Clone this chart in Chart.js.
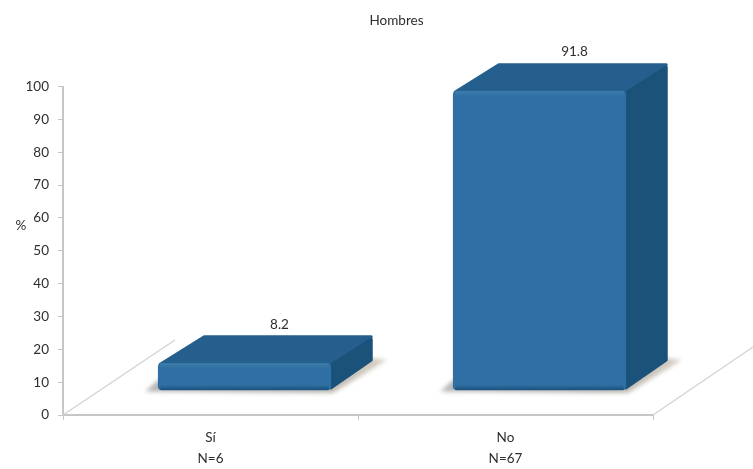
<!DOCTYPE html>
<html>
<head>
<meta charset="utf-8">
<title>Hombres</title>
<script src="https://cdn.jsdelivr.net/npm/chart.js@4"></script>
<style>
  body { margin: 0; background: #fff; }
  canvas { display: block; filter: blur(0.35px); }
</style>
</head>
<body>
<canvas id="chart" width="753" height="469"></canvas>
<script>
const chartTitle = "Hombres";
const axisLabel = "%";
const categories = ["Sí", "No"];
const counts = [6, 67];
const percents = [8.2, 91.8];
const yTicks = [0, 10, 20, 30, 40, 50, 60, 70, 80, 90, 100];

const fontName = "Lato, sans-serif";
const textColor = "#2e2e2e";
const lineColor = "#c6c6c6";

// the fake 3D look: front face sits up and right of the axis floor
const frontX = 34;
const frontY = -25;

const fake3d = {
  id: "fake3d",
  beforeDatasetsDraw(chart) {
    const { ctx, chartArea } = chart;
    // floor lines
    ctx.save();
    ctx.strokeStyle = "#d2d2d2";
    ctx.lineWidth = 1.3;
    ctx.beginPath();
    ctx.moveTo(chartArea.left, chartArea.bottom);
    ctx.lineTo(chartArea.left + 112, chartArea.bottom - 75);
    ctx.moveTo(chartArea.right, chartArea.bottom);
    ctx.lineTo(chartArea.right + 100, chartArea.bottom - 68);
    ctx.stroke();
    ctx.restore();
  },
  beforeDatasetDraw(chart, args) {
    const { ctx } = chart;
    ctx.save();
    ctx.translate(frontX, frontY);

    args.meta.data.forEach((bar) => {
      const x0 = bar.x - bar.width / 2;
      const x1 = bar.x + bar.width / 2;
      const yt = bar.y;
      const yb = bar.base;

      // shadow on the floor
      ctx.save();
      ctx.filter = "blur(2px)";
      const shade = ctx.createLinearGradient(x0 - 13, 0, x1 + 56, 0);
      shade.addColorStop(0, "#b4b4b4");
      shade.addColorStop(0.7, "#b8b3ad");
      shade.addColorStop(1, "#d6d0c6");
      ctx.fillStyle = shade;
      ctx.beginPath();
      ctx.moveTo(x0 - 13, yb + 1.5);
      ctx.lineTo(x1 + 2, yb + 3);
      ctx.lineTo(x1 + 56, yb - 30);
      ctx.lineTo(x1 + 40, yb - 32);
      ctx.lineTo(x0, yb - 10);
      ctx.closePath();
      ctx.fill();
      ctx.restore();

      ctx.lineJoin = "round";
      ctx.lineWidth = 3;

      // top face
      ctx.fillStyle = ctx.strokeStyle = "#245f8d";
      ctx.beginPath();
      ctx.moveTo(x0 + 2, yt + 1);
      ctx.lineTo(x0 + 46, yt - 26.5);
      ctx.lineTo(x1 + 40.5, yt - 26.5);
      ctx.lineTo(x1, yt + 1);
      ctx.closePath();
      ctx.fill();
      ctx.stroke();

      // side face
      ctx.fillStyle = ctx.strokeStyle = "#1b5279";
      ctx.beginPath();
      ctx.moveTo(x1, yt + 2);
      ctx.lineTo(x1 + 40.5, yt - 24);
      ctx.lineTo(x1 + 40.5, yb - 30);
      ctx.lineTo(x1, yb - 2);
      ctx.closePath();
      ctx.fill();
      ctx.stroke();
    });
  },
  afterDatasetDraw(chart, args) {
    const { ctx } = chart;
    args.meta.data.forEach((bar) => {
      const x0 = bar.x - bar.width / 2;
      const yb = bar.base;
      const yt = bar.y;
      // dark lip along the bottom, light band along the top of the front face
      const lip = ctx.createLinearGradient(0, yb - 5, 0, yb);
      lip.addColorStop(0, "rgba(27,80,125,0)");
      lip.addColorStop(1, "rgba(27,80,125,1)");
      ctx.fillStyle = lip;
      ctx.fillRect(x0 + 2, yb - 5, bar.width - 4, 5);

      const band = ctx.createLinearGradient(0, yt, 0, yt + 5);
      band.addColorStop(0, "rgba(70,130,175,0.7)");
      band.addColorStop(1, "rgba(70,130,175,0)");
      ctx.fillStyle = band;
      ctx.fillRect(x0 + 2, yt, bar.width - 4, 5);
    });
    ctx.restore();
  },
  afterDatasetsDraw(chart) {
    const { ctx } = chart;
    ctx.save();
    ctx.fillStyle = textColor;
    ctx.font = "13.5px " + fontName;
    ctx.textAlign = "center";
    ctx.textBaseline = "middle";

    ctx.fillText(chartTitle, 396.5, 20.5);
    ctx.fillText(axisLabel, 21, 226);

    // value labels over the top face
    chart.getDatasetMeta(0).data.forEach((bar, i) => {
      ctx.fillText(percents[i].toFixed(1), bar.x + frontX + 35, bar.y + frontY - 39);
    });
    ctx.restore();
  }
};

new Chart(document.getElementById("chart"), {
  type: "bar",
  data: {
    labels: categories.map((c, i) => [c, "N=" + counts[i]]),
    datasets: [{
      data: percents,
      yAxisID: "yBar",
      backgroundColor: "#2f6fa3",
      borderRadius: 4,
      borderSkipped: false,
      barThickness: 172.5,
      clip: false
    }]
  },
  options: {
    responsive: false,
    animation: false,
    layout: { padding: { top: 86.5, right: 100 } },
    plugins: {
      legend: { display: false },
      tooltip: { enabled: false }
    },
    scales: {
      x: {
        afterFit: (s) => { s.height = 54; },
        border: { color: lineColor, width: 2 },
        grid: { drawOnChartArea: false, tickLength: 5, color: lineColor, offset: true },
        ticks: {
          color: textColor,
          padding: 8,
          maxRotation: 0,
          font: { family: fontName, size: 13.5, lineHeight: 1.5 }
        }
      },
      y: {
        min: 0,
        max: 100,
        afterFit: (s) => { s.width = 63; },
        afterBuildTicks: (s) => { s.ticks = yTicks.map((v) => ({ value: v })); },
        border: { color: lineColor, width: 2 },
        grid: { drawOnChartArea: false, tickLength: 5, color: lineColor },
        ticks: {
          color: textColor,
          padding: 9,
          font: { family: fontName, size: 13.5 }
        }
      },
      // bars stand a little shorter than the printed axis, as in the picture
      yBar: { display: false, min: 0, max: 100.9 }
    }
  },
  plugins: [fake3d]
});
</script>
</body>
</html>
